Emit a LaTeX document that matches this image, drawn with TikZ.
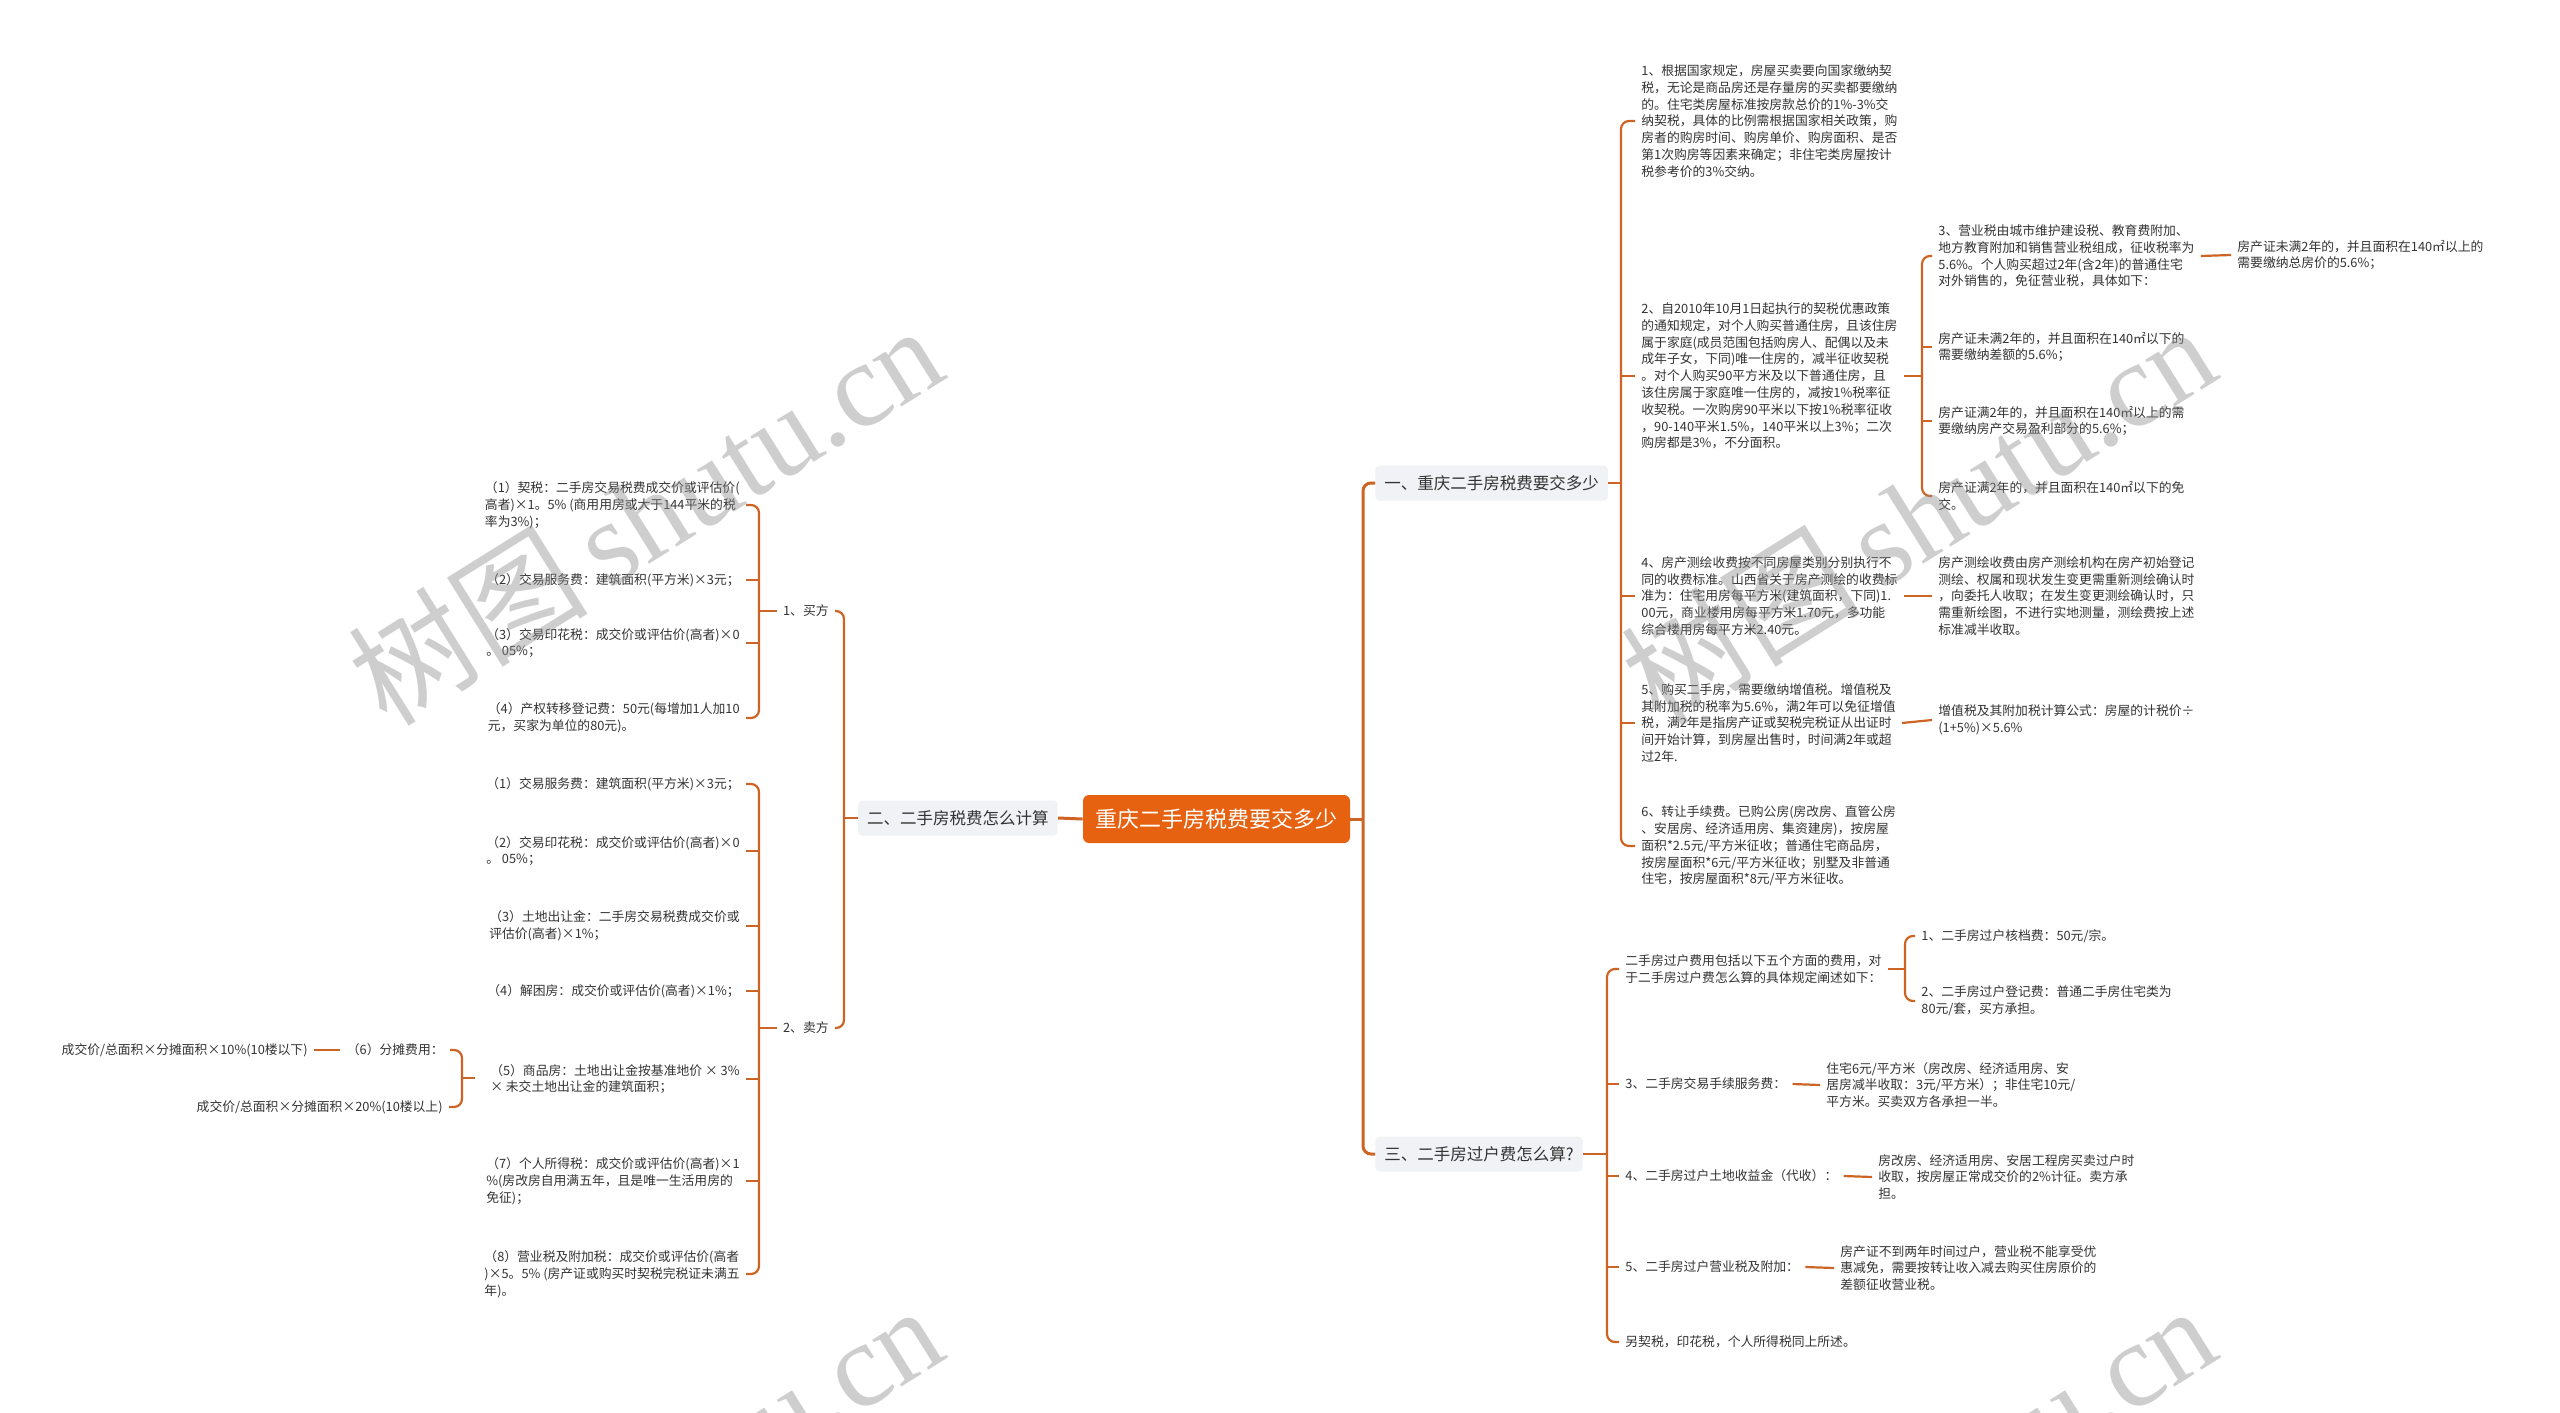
\documentclass[tikz,border=0pt]{standalone}
\usepackage{fontspec}
\setmainfont{Noto Sans CJK SC}
\newfontfamily\wmserif{Liberation Serif}
\definecolor{conn}{RGB}{205,100,35}
\definecolor{rootc}{RGB}{230,97,16}
\definecolor{lvbox}{RGB}{241,242,245}
\definecolor{txt}{RGB}{51,51,51}
\begin{document}
\begin{tikzpicture}[x=0.5pt,y=-0.5pt,
  leaf/.style={font=\fontsize{6.4pt}{8.4pt}\selectfont, text=txt, align=left, inner xsep=3pt, inner ysep=2pt},
  lone/.style={font=\fontsize{8.25pt}{10pt}\selectfont, text=txt, fill=lvbox, rounded corners=2pt, inner xsep=4.5pt, minimum height=17.5pt},
  rootn/.style={font=\fontsize{11pt}{13pt}\selectfont, text=white, fill=rootc, rounded corners=3pt, inner xsep=6.25pt, minimum height=24pt},
  ln/.style={draw=conn, line width=1.1pt, rounded corners=4pt},
  lnm/.style={draw=conn, line width=1.5pt, rounded corners=4pt},
]
\fill[white] (0,0) rectangle (2560,1413);
\useasboundingbox (0,0) rectangle (2560,1413);

% bracket x positions
\coordinate (xR) at (1363,0);
\coordinate (x1) at (1621,0);
\coordinate (x2) at (1922,0);
\coordinate (x3) at (1607,0);
\coordinate (xA) at (1905,0);
\coordinate (xL) at (844,0);
\coordinate (xB) at (759,0);
\coordinate (x6) at (462,0);

% root and level 1
\node[rootn] (root) at (1216.5,819) {重庆二手房税费要交多少};
\node[lone, anchor=west] (La) at (1375,483) {一、重庆二手房税费要交多少};
\node[lone, anchor=east] (Lb) at (1058,818) {二、二手房税费怎么计算};
\node[lone, anchor=west] (Lc) at (1375,1154) {三、二手房过户费怎么算?};

% section 1
\node[leaf, anchor=west] (i1) at (1635,121) {1、根据国家规定，房屋买卖要向国家缴纳契\\税，无论是商品房还是存量房的买卖都要缴纳\\的。住宅类房屋标准按房款总价的1\%-3\%交\\纳契税，具体的比例需根据国家相关政策，购\\房者的购房时间、购房单价、购房面积、是否\\第1次购房等因素来确定；非住宅类房屋按计\\税参考价的3\%交纳。};
\node[leaf, anchor=west] (i2) at (1635,376) {2、自2010年10月1日起执行的契税优惠政策\\的通知规定，对个人购买普通住房，且该住房\\属于家庭(成员范围包括购房人、配偶以及未\\成年子女，下同)唯一住房的，减半征收契税\\。对个人购买90平方米及以下普通住房，且\\该住房属于家庭唯一住房的，减按1\%税率征\\收契税。一次购房90平米以下按1\%税率征收\\，90-140平米1.5\%，140平米以上3\%；二次\\购房都是3\%，不分面积。};
\node[leaf, anchor=west] (i4) at (1635,596) {4、房产测绘收费按不同房屋类别分别执行不\\同的收费标准。山西省关于房产测绘的收费标\\准为：住宅用房每平方米(建筑面积，下同)1.\\00元，商业楼用房每平方米1.70元，多功能\\综合楼用房每平方米2.40元。};
\node[leaf, anchor=west] (i5) at (1635,723) {5、购买二手房，需要缴纳增值税。增值税及\\其附加税的税率为5.6\%，满2年可以免征增值\\税，满2年是指房产证或契税完税证从出证时\\间开始计算，到房屋出售时，时间满2年或超\\过2年.};
\node[leaf, anchor=west] (i6) at (1635,846) {6、转让手续费。已购公房(房改房、直管公房\\、安居房、经济适用房、集资建房)，按房屋\\面积*2.5元/平方米征收；普通住宅商品房，\\按房屋面积*6元/平方米征收；别墅及非普通\\住宅，按房屋面积*8元/平方米征收。};

\node[leaf, anchor=west] (i2a) at (1932,256) {3、营业税由城市维护建设税、教育费附加、\\地方教育附加和销售营业税组成，征收税率为\\5.6\%。个人购买超过2年(含2年)的普通住宅\\对外销售的，免征营业税，具体如下：};
\node[leaf, anchor=west] (i2aa) at (2231,255) {房产证未满2年的，并且面积在140㎡以上的\\需要缴纳总房价的5.6\%；};
\node[leaf, anchor=west] (i2b) at (1932,347) {房产证未满2年的，并且面积在140㎡以下的\\需要缴纳差额的5.6\%；};
\node[leaf, anchor=west] (i2c) at (1932,421) {房产证满2年的，并且面积在140㎡以上的需\\要缴纳房产交易盈利部分的5.6\%；};
\node[leaf, anchor=west] (i2d) at (1932,496) {房产证满2年的，并且面积在140㎡以下的免\\交。};
\node[leaf, anchor=west] (i4a) at (1932,596) {房产测绘收费由房产测绘机构在房产初始登记\\测绘、权属和现状发生变更需重新测绘确认时\\，向委托人收取；在发生变更测绘确认时，只\\需重新绘图，不进行实地测量，测绘费按上述\\标准减半收取。};
\node[leaf, anchor=west] (i5a) at (1932,720) {增值税及其附加税计算公式：房屋的计税价÷\\(1+5\%)×5.6\%};

% section 3
\node[leaf, anchor=west] (cA) at (1619,969) {二手房过户费用包括以下五个方面的费用，对\\于二手房过户费怎么算的具体规定阐述如下：};
\node[leaf, anchor=west] (cA1) at (1915,936) {1、二手房过户核档费：50元/宗。};
\node[leaf, anchor=west] (cA2) at (1915,1001) {2、二手房过户登记费：普通二手房住宅类为\\80元/套，买方承担。};
\node[leaf, anchor=west] (cB) at (1619,1084) {3、二手房交易手续服务费：};
\node[leaf, anchor=west] (cB1) at (1820,1085) {住宅6元/平方米（房改房、经济适用房、安\\居房减半收取：3元/平方米）；非住宅10元/\\平方米。买卖双方各承担一半。};
\node[leaf, anchor=west] (cC) at (1619,1176) {4、二手房过户土地收益金（代收）：};
\node[leaf, anchor=west] (cC1) at (1872,1177) {房改房、经济适用房、安居工程房买卖过户时\\收取，按房屋正常成交价的2\%计征。卖方承\\担。};
\node[leaf, anchor=west] (cD) at (1619,1267) {5、二手房过户营业税及附加：};
\node[leaf, anchor=west] (cD1) at (1834,1268) {房产证不到两年时间过户，营业税不能享受优\\惠减免，需要按转让收入减去购买住房原价的\\差额征收营业税。};
\node[leaf, anchor=west] (cE) at (1619,1342) {另契税，印花税，个人所得税同上所述。};

% section 2 (left)
\node[leaf, anchor=east] (buy) at (835,611) {1、买方};
\node[leaf, anchor=east] (sell) at (835,1028) {2、卖方};

\node[leaf, anchor=east] (b1) at (746,505) {（1）契税：二手房交易税费成交价或评估价(\\高者)×1。5\% (商用用房或大于144平米的税\\率为3\%)；};
\node[leaf, anchor=east] (b2) at (746,580) {（2）交易服务费：建筑面积(平方米)×3元；};
\node[leaf, anchor=east] (b3) at (746,643) {（3）交易印花税：成交价或评估价(高者)×0\\。 05\%；};
\node[leaf, anchor=east] (b4) at (746,718) {（4）产权转移登记费：50元(每增加1人加10\\元，买家为单位的80元)。};

\node[leaf, anchor=east] (s1) at (746,784) {（1）交易服务费：建筑面积(平方米)×3元；};
\node[leaf, anchor=east] (s2) at (746,851) {（2）交易印花税：成交价或评估价(高者)×0\\。 05\%；};
\node[leaf, anchor=east] (s3) at (746,926) {（3）土地出让金：二手房交易税费成交价或\\评估价(高者)×1\%；};
\node[leaf, anchor=east] (s4) at (746,991) {（4）解困房：成交价或评估价(高者)×1\%；};
\node[leaf, anchor=east] (s5) at (746,1079) {（5）商品房：土地出让金按基准地价 × 3\%\\× 未交土地出让金的建筑面积；};
\node[leaf, anchor=east] (s7) at (746,1181) {（7）个人所得税：成交价或评估价(高者)×1\\\%(房改房自用满五年，且是唯一生活用房的\\免征)；};
\node[leaf, anchor=east] (s8) at (746,1274) {（8）营业税及附加税：成交价或评估价(高者\\)×5。5\% (房产证或购买时契税完税证未满五\\年)。};

\node[leaf, anchor=east] (s6) at (450,1050) {（6）分摊费用：};
\node[leaf, anchor=east] (ten) at (314,1050) {成交价/总面积×分摊面积×10\%(10楼以下)};
\node[leaf, anchor=east] (twenty) at (449,1107) {成交价/总面积×分摊面积×20\%(10楼以上)};
\coordinate (s6end) at (475,1078);

% ---------- connectors ----------
% root to level 1
\draw[lnm] (root.east) -- (root.east -| xR);
\draw[lnm] (La.west) -- (La.west -| xR) -- (Lc.west -| xR) -- (Lc.west);
\draw[lnm] (root.west) -- (Lb.east);

% section 1
\draw[ln] (La.east) -- (La.east -| x1);
\draw[ln] (i1.west) -- (i1.west -| x1) -- (i6.west -| x1) -- (i6.west);
\draw[ln] (i2.west -| x1) -- (i2.west);
\draw[ln] (i4.west -| x1) -- (i4.west);
\draw[ln] (i5.west -| x1) -- (i5.west);

\draw[ln] (i2.east) -- (i2.east -| x2);
\draw[ln] (i2a.west) -- (i2a.west -| x2) -- (i2d.west -| x2) -- (i2d.west);
\draw[ln] (i2b.west -| x2) -- (i2b.west);
\draw[ln] (i2c.west -| x2) -- (i2c.west);
\draw[ln] (i2a.east) -- (i2aa.west);
\draw[ln] (i4.east) -- (i4a.west);
\draw[ln] (i5.east) -- (i5a.west);

% section 3
\draw[ln] (Lc.east) -- (Lc.east -| x3);
\draw[ln] (cA.west) -- (cA.west -| x3) -- (cE.west -| x3) -- (cE.west);
\draw[ln] (cB.west -| x3) -- (cB.west);
\draw[ln] (cC.west -| x3) -- (cC.west);
\draw[ln] (cD.west -| x3) -- (cD.west);
\draw[ln] (cA.east) -- (cA.east -| xA);
\draw[ln] (cA1.west) -- (cA1.west -| xA) -- (cA2.west -| xA) -- (cA2.west);
\draw[ln] (cB.east) -- (cB1.west);
\draw[ln] (cC.east) -- (cC1.west);
\draw[ln] (cD.east) -- (cD1.west);

% section 2
\draw[ln] (Lb.west) -- (Lb.west -| xL);
\draw[ln] (buy.east) -- (buy.east -| xL) -- (sell.east -| xL) -- (sell.east);
\draw[ln] (buy.west) -- (buy.west -| xB);
\draw[ln] (b1.east) -- (b1.east -| xB) -- (b4.east -| xB) -- (b4.east);
\draw[ln] (b2.east -| xB) -- (b2.east);
\draw[ln] (b3.east -| xB) -- (b3.east);
\draw[ln] (sell.west) -- (sell.west -| xB);
\draw[ln] (s1.east) -- (s1.east -| xB) -- (s8.east -| xB) -- (s8.east);
\draw[ln] (s2.east -| xB) -- (s2.east);
\draw[ln] (s3.east -| xB) -- (s3.east);
\draw[ln] (s4.east -| xB) -- (s4.east);
\draw[ln] (s5.east -| xB) -- (s5.east);
\draw[ln] (s7.east -| xB) -- (s7.east);
\draw[ln] (s6.east) -- (s6.east -| x6) -- (twenty.east -| x6) -- (twenty.east);
\draw[ln] (s6end -| x6) -- (s6end);
\draw[ln] (ten.east) -- (s6.west);

% watermarks
\begin{scope}
\clip (0,0) rectangle (2560,1413);
\foreach \cx/\cy in {645/514, 1918/514, 645/1494, 1918/1494} {
  \node[rotate=32, text=black!45, opacity=0.42, font=\fontsize{60pt}{60pt}\selectfont] at (\cx,\cy) {树图{\wmserif\,shutu.cn}};
}
\end{scope}
\end{tikzpicture}
\end{document}
